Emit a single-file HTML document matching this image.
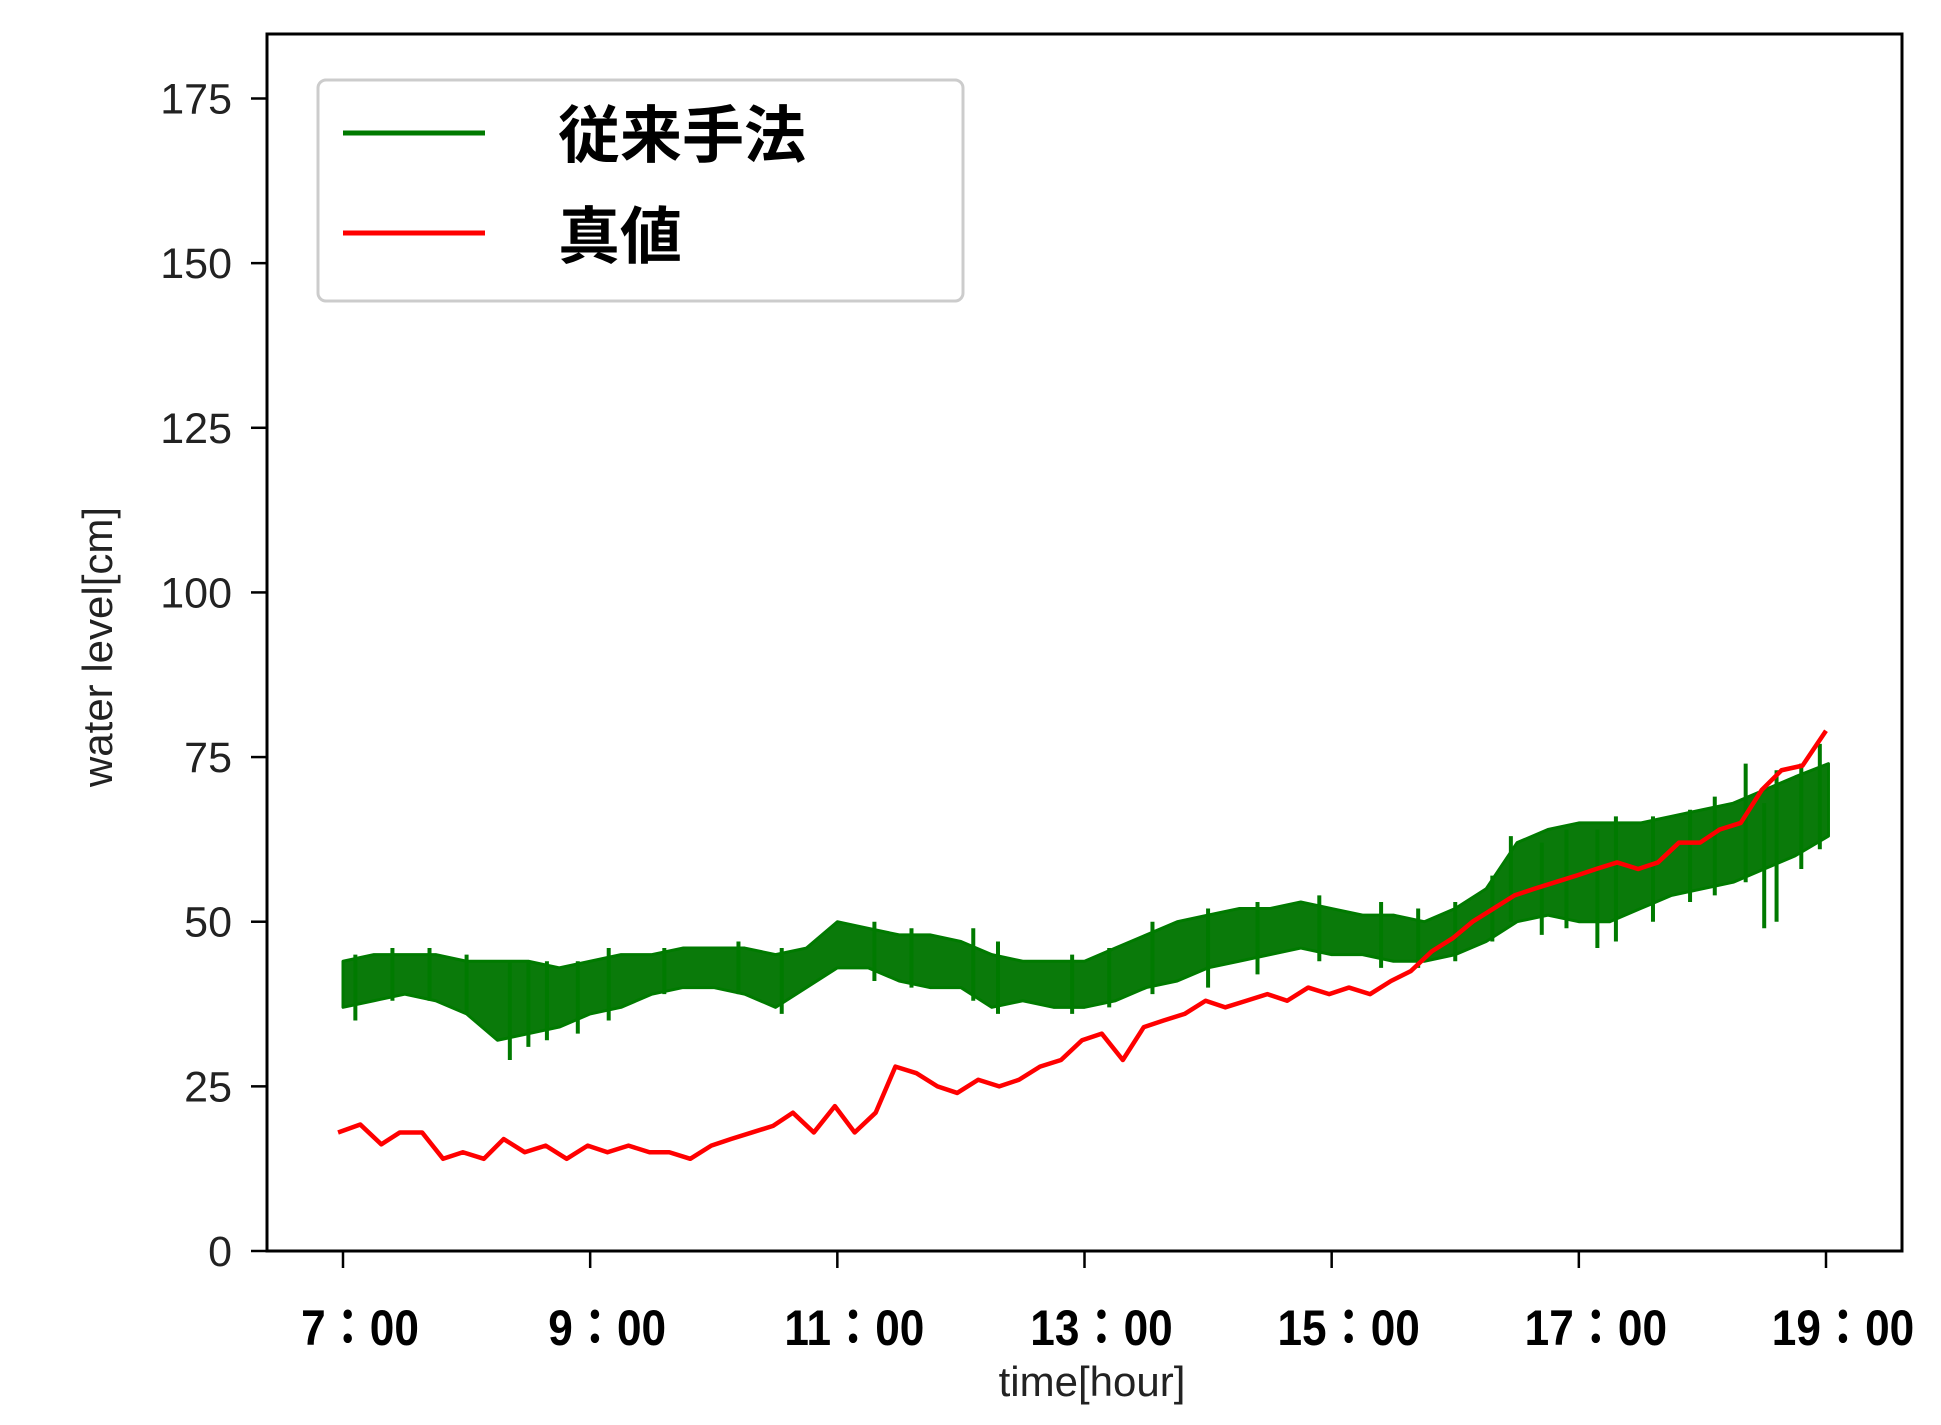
<!DOCTYPE html>
<html><head><meta charset="utf-8"><style>
html,body{margin:0;padding:0;background:#fff;}
svg{display:block;font-family:"Liberation Sans","Noto Sans CJK JP",sans-serif;}
</style></head><body>
<svg id="chart" width="1941" height="1425" viewBox="0 0 1941 1425">
<g id="plot"></g>
<rect x="267" y="34" width="1635" height="1217" fill="none" stroke="#000" stroke-width="3"/>
<g id="axes"></g>
<text x="1092" y="1396" font-size="42" text-anchor="middle" fill="#222">time[hour]</text>
<text transform="translate(112,647) rotate(-90)" font-size="42" text-anchor="middle" fill="#222">water level[cm]</text>
<g>
<rect x="318" y="80" width="645" height="221" rx="8" fill="#fff" stroke="#ccc" stroke-width="3"/>
<line x1="343" y1="133" x2="485" y2="133" stroke="#007a00" stroke-width="5"/>
<text x="558" y="157" font-size="62" font-weight="bold" fill="#000" font-family="'Noto Sans CJK JP',sans-serif">従来手法</text>
<line x1="343" y1="233" x2="485" y2="233" stroke="#ff0000" stroke-width="5"/>
<text x="558" y="258" font-size="62" font-weight="bold" fill="#000" font-family="'Noto Sans CJK JP',sans-serif">真値</text>
</g>
</svg>
<script>
const yTicks=[0,25,50,75,100,125,150,175];
const xTicks=[7,9,11,13,15,17,19];
const xTickLabels=["7：00","9：00","11：00","13：00","15：00","17：00","19：00"];
const trueX=[6.96,7.14,7.31,7.46,7.64,7.81,7.97,8.14,8.3,8.47,8.64,8.81,8.98,9.14,9.31,9.48,9.64,9.81,9.98,10.14,10.31,10.48,10.64,10.81,10.98,11.14,11.31,11.47,11.64,11.81,11.97,12.14,12.31,12.47,12.64,12.81,12.98,13.14,13.31,13.48,13.64,13.81,13.98,14.14,14.31,14.48,14.64,14.81,14.98,15.14,15.31,15.48,15.64,15.81,15.98,16.14,16.31,16.48,16.64,16.81,16.98,17.14,17.31,17.48,17.64,17.81,17.98,18.14,18.31,18.48,18.64,18.81,19.0];
const trueY=[18,19.2,16.2,18,18,14,15,14,17,15,16,14,16,15,16,15,15,14,16,17,18,19,21,18,22,18,21,28,27,25,24,26,25,26,28,29,32,33,29,34,35,36,38,37,38,39,38,40,39,40,39,41,42.5,45.5,47.5,50,52,54,55,56,57,58,59,58,59,62,62,64,65,70,73,73.7,79];
const convX=[7,7.25,7.5,7.75,8,8.25,8.5,8.75,9,9.25,9.5,9.75,10,10.25,10.5,10.75,11,11.25,11.5,11.75,12,12.25,12.5,12.75,13,13.25,13.5,13.75,14,14.25,14.5,14.75,15,15.25,15.5,15.75,16,16.25,16.5,16.75,17,17.25,17.5,17.75,18,18.25,18.5,18.75,19.02];
const convHi=[44,45,45,45,44,44,44,43,44,45,45,46,46,46,45,46,50,49,48,48,47,45,44,44,44,46,48,50,51,52,52,53,52,51,51,50,52,55,62,64,65,65,65,66,67,68,70,72,74];
const convLo=[37,38,39,38,36,32,33,34,36,37,39,40,40,39,37,40,43,43,41,40,40,37,38,37,37,38,40,41,43,44,45,46,45,45,44,44,45,47,50,51,50,50,52,54,55,56,58,60,63];
const spikeX=[7.1,7.4,7.7,8.0,8.35,8.5,8.65,8.9,9.15,9.6,10.2,10.55,11.3,11.6,12.1,12.3,12.9,13.2,13.55,14.0,14.4,14.9,15.4,15.7,16.0,16.3,16.45,16.7,16.9,17.15,17.3,17.6,17.9,18.1,18.35,18.5,18.6,18.8,18.95];
const spikeLo=[35,38,38,36,29,31,32,33,35,39,39,36,41,40,38,36,36,37,39,40,42,44,43,43,44,47,50,48,49,46,47,50,53,54,56,49,50,58,61];
const spikeHi=[45,46,46,45,44,44,44,44,46,46,47,46,50,49,49,47,45,46,50,52,53,54,53,52,53,57,63,62,64,64,66,66,67,69,74,68,73,74,77];

const NS="http://www.w3.org/2000/svg";
const X=h=>343+(h-7)*(1826-343)/12;
const Y=v=>1251-v*(1251-98.5)/175;
const plot=document.getElementById('plot'), axes=document.getElementById('axes');
function mk(tag,attrs,parent){const e=document.createElementNS(NS,tag);for(const k in attrs)e.setAttribute(k,attrs[k]);parent.appendChild(e);return e;}

yTicks.forEach(v=>{
  const t=mk('line',{x1:251,x2:267,y1:Y(v),y2:Y(v),stroke:'#000','stroke-width':2.5},axes);
  
  
  const l=mk('text',{x:232,y:Y(v)+15,'font-size':43,'text-anchor':'end',fill:'#222'},axes);
  l.textContent=v;
  
  
});
xTicks.forEach((h,i)=>{
  const t=mk('line',{x1:X(h),x2:X(h),y1:1251,y2:1268,stroke:'#000','stroke-width':2.5},axes);
  
  
  const l=mk('text',{x:0,y:0,'font-size':48,'font-weight':'bold','text-anchor':'middle',fill:'#000','font-family':"'Liberation Sans','Noto Sans CJK JP',sans-serif",transform:'translate('+(X(h)+17)+',1345) scale(0.92,1.05)'},axes);
  l.textContent=xTickLabels[i];
  
  
});

let pts=convX.map((h,i)=>X(h)+','+Y(convHi[i]));
for(let i=convX.length-1;i>=0;i--)pts.push(X(convX[i])+','+Y(convLo[i]));
const band=mk('polygon',{points:pts.join(' '),fill:'#0a7a0a',stroke:'#007a00','stroke-width':3,'stroke-linejoin':'round'},plot);


spikeX.forEach((h,i)=>{
  const s=mk('line',{x1:X(h),x2:X(h),y1:Y(spikeLo[i]),y2:Y(spikeHi[i]),stroke:'#007a00','stroke-width':4},plot);
  
  
});
const tl=mk('polyline',{points:trueX.map((h,i)=>X(h)+','+Y(trueY[i])).join(' '),fill:'none',stroke:'#ff0000','stroke-width':4.5,'stroke-linejoin':'round'},plot);


</script>
</body></html>
